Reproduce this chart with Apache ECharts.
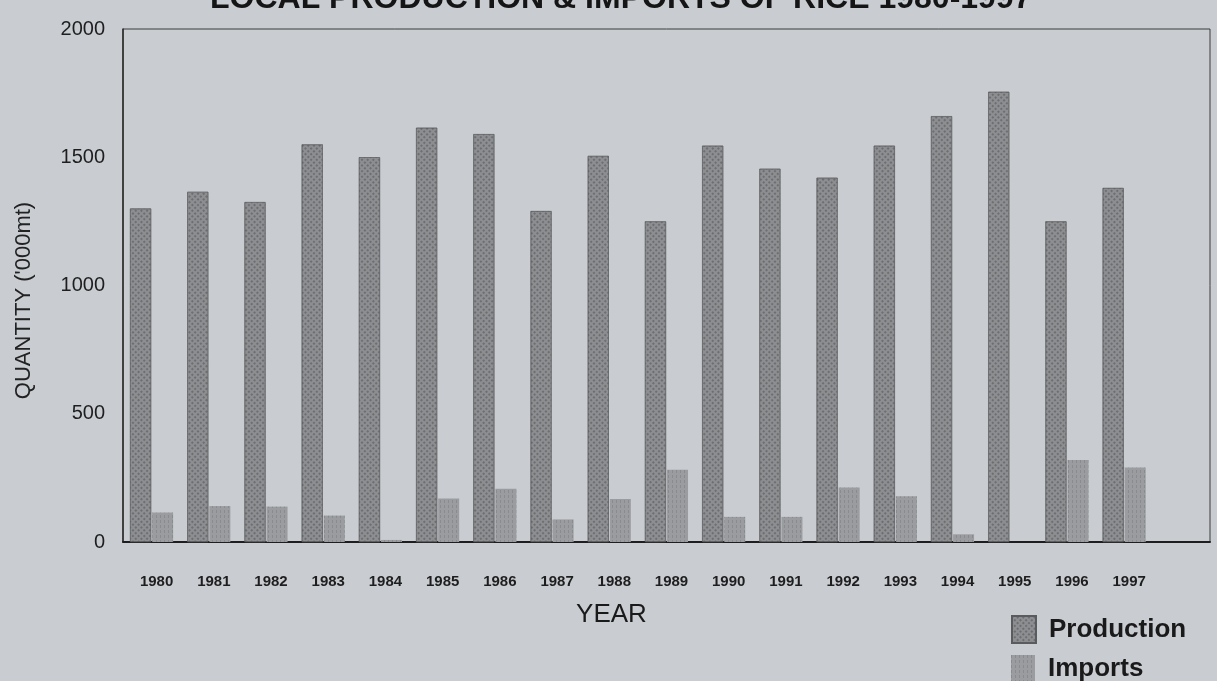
<!DOCTYPE html>
<html>
<head>
<meta charset="utf-8">
<script src="https://cdn.jsdelivr.net/npm/echarts@6/dist/echarts.min.js"></script>
<style>
html,body{margin:0;padding:0;background:#c9cdd1;}
#chart{width:1217px;height:681px;}
</style>
</head>
<body>
<div id="chart"></div>
<script>
var titleText = "LOCAL PRODUCTION & IMPORTS OF RICE 1980-1997";
var years = ["1980","1981","1982","1983","1984","1985","1986","1987","1988","1989","1990","1991","1992","1993","1994","1995","1996","1997"];
var production = [1300,1365,1325,1550,1500,1615,1590,1290,1505,1250,1545,1455,1420,1545,1660,1755,1250,1380];
var imports = [115,140,138,103,8,170,208,88,168,282,98,98,212,178,30,0,320,290];
var yTicks = [0,500,1000,1500,2000];

var chart = echarts.init(document.getElementById('chart'));
var font = "Liberation Sans, Arial, sans-serif";
var legendText = {fontFamily: font, fontSize: 26, fontWeight: 'bold', color: '#1a1a1a', padding: [0,0,0,8]};
chart.setOption({
  backgroundColor: '#c9cdd1',
  animation: false,
  aria: {enabled: true, decal: {show: true}},
  title: {
    text: titleText,
    left: 205, top: -22,
    textStyle: {fontFamily: font, fontSize: 32, fontWeight: 'bold', color: '#151515'}
  },
  legend: [
    {left: 1006, top: 610, icon: 'rect', itemWidth: 24, itemHeight: 27, textStyle: legendText, data: ['Production']},
    {left: 1006, top: 650, icon: 'rect', itemWidth: 24, itemHeight: 27, textStyle: legendText, data: ['Imports']}
  ],
  grid: {
    left: 123, right: 7, top: 29, bottom: 139,
    show: true, borderColor: '#3a3a3a', borderWidth: 1, backgroundColor: 'transparent'
  },
  xAxis: {
    type: 'category',
    data: years.concat(['']),
    name: 'YEAR',
    nameLocation: 'middle',
    nameGap: 60,
    nameTextStyle: {fontFamily: font, fontSize: 26, color: '#1a1a1a', padding: [0,0,0,-110]},
    axisLine: {lineStyle: {color: '#1e1e1e', width: 2}},
    axisTick: {show: false},
    axisLabel: {fontFamily: font, fontSize: 15, fontWeight: 'bold', color: '#1e1e1e', margin: 32, padding: [0,0,0,10], interval: 0}
  },
  yAxis: {
    type: 'value',
    min: yTicks[0], max: yTicks[yTicks.length-1], interval: 500,
    name: "QUANTITY ('000mt)",
    nameLocation: 'middle',
    nameGap: 88,
    nameTextStyle: {fontFamily: font, fontSize: 22, color: '#222', padding: [0,0,0,-30]},
    axisLine: {show: true, lineStyle: {color: '#2a2a2a', width: 1.5}},
    axisTick: {show: false},
    splitLine: {show: false},
    axisLabel: {fontFamily: font, fontSize: 20, color: '#1e1e1e', margin: 18, formatter: function(v){ return String(v); }}
  },
  series: [
    {
      name: 'Production', type: 'bar', data: production,
      barWidth: 21, barGap: '5%',
      itemStyle: {
        color: '#8c8e91', borderColor: '#5a5b5d', borderWidth: 0.5,
        decal: {symbol: 'rect', symbolSize: 1, dashArrayX: [2, 2], dashArrayY: [2, 2], rotation: Math.PI/4, color: 'rgba(70,70,72,0.45)'}
      }
    },
    {
      name: 'Imports', type: 'bar', data: imports,
      barWidth: 21,
      itemStyle: {
        color: '#9a9c9f',
        decal: {symbol: 'rect', symbolSize: 1, dashArrayX: [1, 3], dashArrayY: [3, 2], color: 'rgba(110,110,112,0.35)'}
      }
    }
  ]
});
</script>
</body>
</html>
